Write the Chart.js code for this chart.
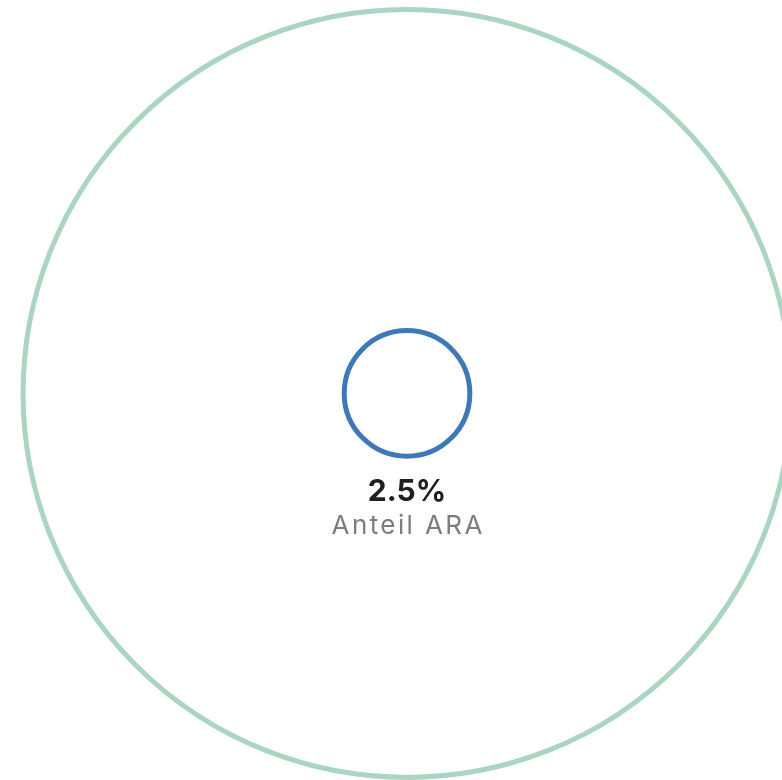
<!DOCTYPE html>
<html>
<head>
<meta charset="utf-8">
<script src="https://cdn.jsdelivr.net/npm/chart.js@4/dist/chart.umd.min.js"></script>
<style>
  html, body { margin: 0; padding: 0; background: #fff; }
  canvas { display: block; }
</style>
</head>
<body>
<canvas id="shareChart" width="782" height="780"></canvas>
<script>
// data
const categories = ['Gesamt', 'ARA'];
const shares = [100, 2.5];          // percent
const centerCaption = 'Anteil ARA';

const ringColors = ['#a9d5c1', '#3f78b6'];
const ringWidth = 5;

// circle area is proportional to the share -> radius in sqrt units,
// stroke sits just outside the circle
const radiusFor = (ctx) => {
    const s = ctx.chart.scales.x;
    const v = shares[ctx.datasetIndex];
    return s.getPixelForValue(Math.sqrt(v)) - s.getPixelForValue(0) + ringWidth / 2;
};

const centerText = {
    id: 'centerText',
    afterDatasetsDraw(chart) {
        const { ctx, scales } = chart;
        const cx = scales.x.getPixelForValue(0);
        const cy = scales.y.getPixelForValue(0);
        ctx.save();
        ctx.textAlign = 'center';
        ctx.textBaseline = 'alphabetic';
        ctx.fillStyle = '#1f1f1f';
        ctx.font = 'bold 30px Inter';
        ctx.fillText(shares[1].toFixed(1) + '%', cx, cy + 108);
        ctx.fillStyle = '#7d7d7d';
        ctx.font = '26px Inter';
        ctx.letterSpacing = '2.4px';
        ctx.fillText(centerCaption, cx + 1.2, cy + 141);
        ctx.restore();
    }
};

const ctx = document.getElementById('shareChart').getContext('2d');
new Chart(ctx, {
    type: 'scatter',
    data: {
        datasets: categories.map((name, i) => ({
            label: name,
            data: [{ x: 0, y: 0 }],
            pointRadius: radiusFor,
            pointHoverRadius: radiusFor,
            pointBackgroundColor: 'rgba(0,0,0,0)',
            pointBorderColor: ringColors[i],
            pointBorderWidth: ringWidth,
            pointHoverBorderWidth: ringWidth,
            clip: false
        }))
    },
    options: {
        responsive: false,
        animation: false,
        events: [],
        layout: { padding: 0 },
        plugins: {
            legend: { display: false },
            tooltip: { enabled: false }
        },
        scales: {
            x: { type: 'linear', display: false, min: -10.67, max: 9.83 },
            y: { type: 'linear', display: false, min: -10.13, max: 10.31 }
        }
    },
    plugins: [centerText]
});
</script>
</body>
</html>
